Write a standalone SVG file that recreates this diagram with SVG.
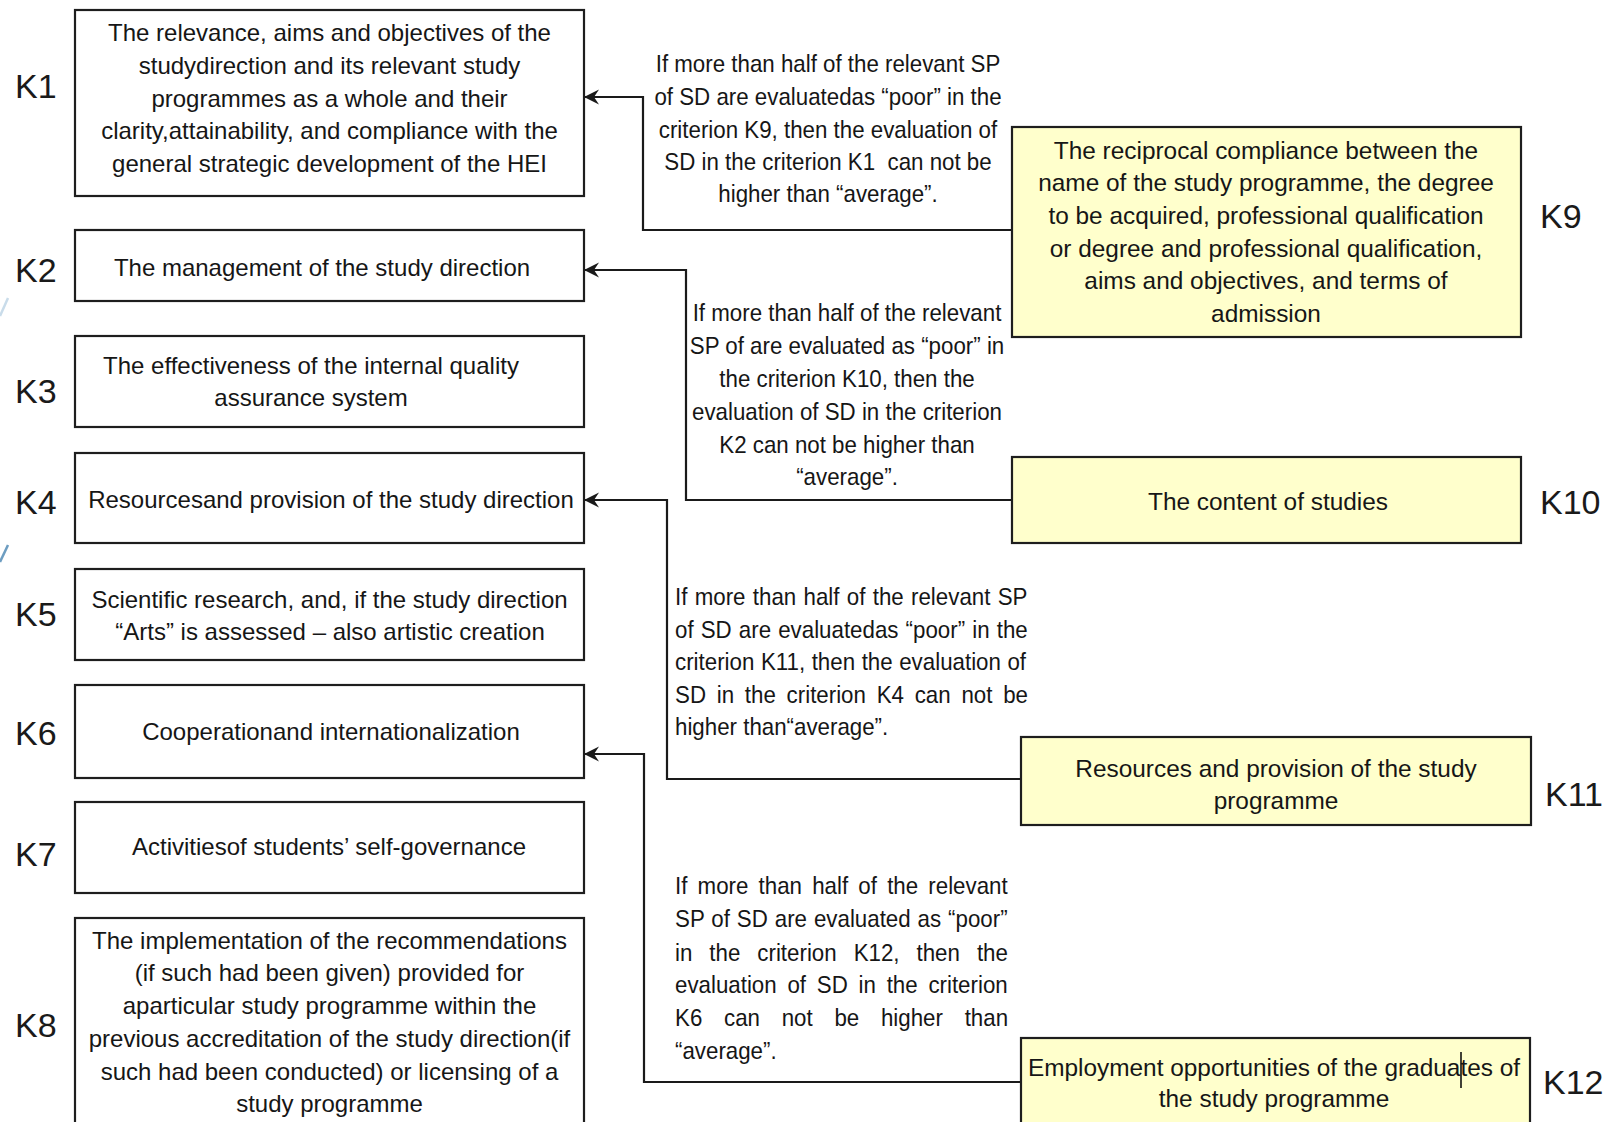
<svg xmlns="http://www.w3.org/2000/svg" width="1612" height="1122" viewBox="0 0 1612 1122">
<style>
.box{fill:#ffffff;stroke:#1e1e1e;stroke-width:2.2}
.ybox{fill:#ffffcc;stroke:#1e1e1e;stroke-width:2.2}
.t{font-family:"Liberation Sans",Arial,sans-serif;font-size:24px;fill:#161616;text-anchor:middle}
.ty{font-family:"Liberation Sans",Arial,sans-serif;font-size:24.4px;fill:#161616;text-anchor:middle}
.k{font-family:"Liberation Sans",Arial,sans-serif;font-size:34px;fill:#1a1a1a}
.c{font-family:"Liberation Sans",Arial,sans-serif;font-size:24px;fill:#161616}
.cm{text-anchor:middle}
.conn{fill:none;stroke:#1a1a1a;stroke-width:2.2}
</style>
<defs>
<marker id="arr" markerUnits="userSpaceOnUse" markerWidth="16" markerHeight="16" viewBox="0 0 16 16" refX="15" refY="8" orient="auto">
<path d="M15,8 L0,0.5 L5,8 L0,15.5 Z" fill="#1a1a1a"/>
</marker>
</defs>
<rect width="1612" height="1122" fill="#ffffff"/>
<g id="decor">
<line x1="0" y1="316" x2="8" y2="298" stroke="#c9dcea" stroke-width="2.5"/>
<line x1="0" y1="562" x2="8" y2="545" stroke="#6d9dc1" stroke-width="2.5"/>
</g>
<g id="connectors">
<path class="conn" d="M1012,230 H643 V97 H584" marker-end="url(#arr)"/>
<path class="conn" d="M1012,500 H686 V270 H584" marker-end="url(#arr)"/>
<path class="conn" d="M1021,779 H667 V500 H584" marker-end="url(#arr)"/>
<path class="conn" d="M1021,1082 H644 V754 H584" marker-end="url(#arr)"/>
</g>
<g id="K1">
<text class="k" x="15" y="98">K1</text>
<rect class="box" x="75" y="10" width="509" height="186"/>
<text class="t" x="329.5" y="41">The relevance, aims and objectives of the</text>
<text class="t" x="329.5" y="74">studydirection and its relevant study</text>
<text class="t" x="329.5" y="107">programmes as a whole and their</text>
<text class="t" x="329.5" y="139">clarity,attainability, and compliance with the</text>
<text class="t" x="329.5" y="172">general strategic development of the HEI</text>
</g>
<g id="K2">
<text class="k" x="15" y="282">K2</text>
<rect class="box" x="75" y="230" width="509" height="71"/>
<text class="t" x="322" y="276">The management of the study direction</text>
</g>
<g id="K3">
<text class="k" x="15" y="403">K3</text>
<rect class="box" x="75" y="336" width="509" height="91"/>
<text class="t" x="311" y="374">The effectiveness of the internal quality</text>
<text class="t" x="311" y="406">assurance system</text>
</g>
<g id="K4">
<text class="k" x="15" y="514">K4</text>
<rect class="box" x="75" y="453" width="509" height="90"/>
<text class="t" x="331" y="508">Resourcesand provision of the study direction</text>
</g>
<g id="K5">
<text class="k" x="15" y="626">K5</text>
<rect class="box" x="75" y="569" width="509" height="91"/>
<text class="t" x="329.5" y="608">Scientific research, and, if the study direction</text>
<text class="t" x="330" y="640">“Arts” is assessed – also artistic creation</text>
</g>
<g id="K6">
<text class="k" x="15" y="745">K6</text>
<rect class="box" x="75" y="685" width="509" height="93"/>
<text class="t" x="331" y="740">Cooperationand internationalization</text>
</g>
<g id="K7">
<text class="k" x="15" y="866">K7</text>
<rect class="box" x="75" y="802" width="509" height="91"/>
<text class="t" x="329" y="855">Activitiesof students’ self-governance</text>
</g>
<g id="K8">
<text class="k" x="15" y="1037">K8</text>
<rect class="box" x="75" y="918" width="509" height="220"/>
<text class="t" x="329.5" y="949">The implementation of the recommendations</text>
<text class="t" x="329.5" y="981">(if such had been given) provided for</text>
<text class="t" x="329.5" y="1014">aparticular study programme within the</text>
<text class="t" x="329.5" y="1047">previous accreditation of the study direction(if</text>
<text class="t" x="329.5" y="1080">such had been conducted) or licensing of a</text>
<text class="t" x="329.5" y="1112">study programme</text>
</g>
<g id="K9">
<rect class="ybox" x="1012" y="127" width="509" height="210"/>
<text class="ty" x="1266" y="159">The reciprocal compliance between the</text>
<text class="ty" x="1266" y="191">name of the study programme, the degree</text>
<text class="ty" x="1266" y="224">to be acquired, professional qualification</text>
<text class="ty" x="1266" y="257">or degree and professional qualification,</text>
<text class="ty" x="1266" y="289">aims and objectives, and terms of</text>
<text class="ty" x="1266" y="322">admission</text>
<text class="k" x="1540" y="228">K9</text>
</g>
<g id="K10">
<rect class="ybox" x="1012" y="457" width="509" height="86"/>
<text class="ty" x="1268" y="510">The content of studies</text>
<text class="k" x="1540" y="514">K10</text>
</g>
<g id="K11">
<rect class="ybox" x="1021" y="737" width="510" height="88"/>
<text class="ty" x="1276" y="777">Resources and provision of the study</text>
<text class="ty" x="1276" y="809">programme</text>
<text class="k" x="1545" y="806">K11</text>
</g>
<g id="K12">
<rect class="ybox" x="1021" y="1038" width="509" height="100"/>
<text class="ty" x="1274" y="1076">Employment opportunities of the graduates of</text>
<text class="ty" x="1274" y="1107">the study programme</text>
<line x1="1461" y1="1052" x2="1461" y2="1088" stroke="#111111" stroke-width="1.6"/>
<text class="k" x="1543" y="1094">K12</text>
</g>
<g id="cond1" transform="translate(828,0) scale(0.93,1)">
<text class="c cm" x="0" y="72">If more than half of the relevant SP</text>
<text class="c cm" x="0" y="105">of SD are evaluatedas “poor” in the</text>
<text class="c cm" x="0" y="138">criterion K9, then the evaluation of</text>
<text class="c cm" x="0" y="170" xml:space="preserve">SD in the criterion K1  can not be</text>
<text class="c cm" x="0" y="202">higher than “average”.</text>
</g>
<g id="cond2" transform="translate(847,0) scale(0.93,1)">
<text class="c cm" x="0" y="321">If more than half of the relevant</text>
<text class="c cm" x="0" y="354">SP of are evaluated as “poor” in</text>
<text class="c cm" x="0" y="387">the criterion K10, then the</text>
<text class="c cm" x="0" y="420">evaluation of SD in the criterion</text>
<text class="c cm" x="0" y="453">K2 can not be higher than</text>
<text class="c cm" x="0" y="485">“average”.</text>
</g>
<g id="cond3" transform="translate(675,0) scale(0.93,1)">
<text class="c" x="0" y="605" style="word-spacing:1.2px">If more than half of the relevant SP</text>
<text class="c" x="0" y="638" style="word-spacing:1px">of SD are evaluatedas “poor” in the</text>
<text class="c" x="0" y="670" style="word-spacing:0.4px">criterion K11, then the evaluation of</text>
<text class="c" x="0" y="703" style="word-spacing:4.9px">SD in the criterion K4 can not be</text>
<text class="c" x="0" y="735">higher than“average”.</text>
</g>
<g id="cond4" transform="translate(675,0) scale(0.93,1)">
<text class="c" x="0" y="894" style="word-spacing:4.3px">If more than half of the relevant</text>
<text class="c" x="0" y="927" style="word-spacing:0.8px">SP of SD are evaluated as “poor”</text>
<text class="c" x="0" y="961" style="word-spacing:11.6px">in the criterion K12, then the</text>
<text class="c" x="0" y="993" style="word-spacing:4.9px">evaluation of SD in the criterion</text>
<text class="c" x="0" y="1026" style="word-spacing:16.7px">K6 can not be higher than</text>
<text class="c" x="0" y="1059">“average”.</text>
</g>
</svg>
